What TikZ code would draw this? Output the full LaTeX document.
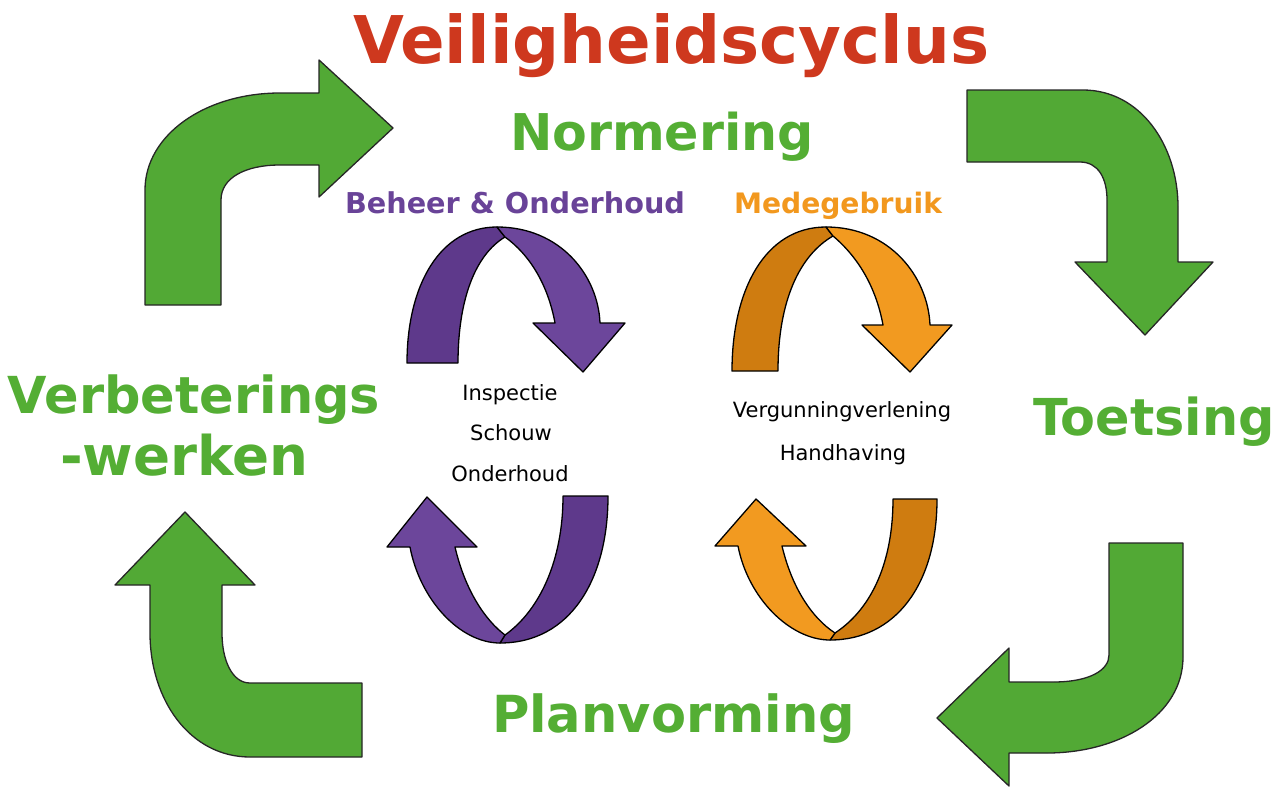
\documentclass[tikz,border=0pt]{standalone}
\usepackage{fontspec}
\setmainfont{DejaVu Sans}
\definecolor{agreen}{RGB}{82,169,53}
\definecolor{tgreen}{RGB}{84,174,52}
\definecolor{tred}{RGB}{206,56,30}
\definecolor{pdark}{RGB}{94,57,139}
\definecolor{plight}{RGB}{108,70,155}
\definecolor{tpurple}{RGB}{105,67,152}
\definecolor{odark}{RGB}{207,124,16}
\definecolor{olight}{RGB}{242,154,32}
\definecolor{torange}{RGB}{242,152,30}
\newcommand{\fitw}[2]{\resizebox{#1}{!}{#2}}
\begin{document}
\begin{tikzpicture}[x=1pt,y=-1pt,
  garrow/.style={fill=agreen,draw=black!85,line width=1.3pt,line join=round},
  rib/.style={draw=black,line width=1.3pt,line join=round},
  lbl/.style={inner sep=0pt,outer sep=0pt,anchor=base west,font=\bfseries},
  small/.style={inner sep=0pt,outer sep=0pt,anchor=base,font=\fontsize{21}{25}\selectfont}]
\useasboundingbox (0,0) rectangle (1287,787);
\fill[white] (0,0) rectangle (1287,787);

% green arrows
\path[garrow] (145,305) -- (145,190) .. controls (145,135) and (205,93) .. (280,93)
  -- (319,93) -- (319,60) -- (393,128) -- (319,197) -- (319,165) -- (280,165)
  .. controls (245,165) and (221,178) .. (221,200) -- (221,305) -- cycle;
\path[garrow] (967,90) -- (1083,90) .. controls (1140,90) and (1178,145) .. (1178,207)
  -- (1178,262) -- (1213,262) -- (1145,335) -- (1075,262) -- (1107,262) -- (1107,200)
  .. controls (1107,178) and (1098,162) .. (1080,162) -- (967,162) -- cycle;
\path[garrow] (1109,543) -- (1183,543) -- (1183,657) .. controls (1183,715) and (1120,753) .. (1047,753)
  -- (1009,753) -- (1009,786) -- (937,718) -- (1009,648) -- (1009,682) -- (1053,682)
  .. controls (1090,682) and (1109,670) .. (1109,655) -- cycle;
\path[garrow] (362,683) -- (362,757) -- (250,757) .. controls (190,757) and (150,700) .. (150,633)
  -- (150,585) -- (115,585) -- (185,512) -- (255,585) -- (222,585) -- (222,633)
  .. controls (222,660) and (232,683) .. (250,683) -- cycle;

% purple top
\path[rib,fill=pdark] (407,363) .. controls (407,285) and (440,227) .. (497,227) -- (505,237)
  .. controls (475,255) and (458,300) .. (458,363) -- cycle;
\path[rib,fill=plight] (497,227) .. controls (560,227) and (598,275) .. (600,323) -- (625,323)
  -- (583,372) -- (533,323) -- (555,323) .. controls (548,285) and (530,255) .. (505,237) -- cycle;
% purple bottom
\path[rib,fill=pdark] (563,496) -- (608,496) .. controls (608,580) and (570,643) .. (500,643)
  -- (505,635) .. controls (540,610) and (563,560) .. (563,496) -- cycle;
\path[rib,fill=plight] (500,643) .. controls (460,643) and (420,600) .. (410,547) -- (387,547)
  -- (427,497) -- (477,547) -- (455,547) .. controls (465,590) and (485,620) .. (505,635) -- cycle;
% orange top
\path[rib,fill=odark] (732,371) .. controls (732,290) and (765,227) .. (826,227) -- (833,236)
  .. controls (800,255) and (778,300) .. (778,371) -- cycle;
\path[rib,fill=olight] (826,227) .. controls (890,227) and (928,277) .. (930,325) -- (952,325)
  -- (910,372) -- (862,325) -- (883,325) .. controls (876,287) and (858,257) .. (833,236) -- cycle;
% orange bottom
\path[rib,fill=odark] (893,499) -- (937,499) .. controls (937,585) and (895,640) .. (830,640)
  -- (835,633) .. controls (873,608) and (893,560) .. (893,499) -- cycle;
\path[rib,fill=olight] (830,640) .. controls (790,640) and (748,598) .. (738,546) -- (715,546)
  -- (756,499) -- (806,546) -- (782,546) .. controls (792,588) and (812,618) .. (835,633) -- cycle;

% labels
\node[lbl,text=tred] (title) at (353,63) {\fitw{636pt}{Veiligheidscyclus}};
\node[lbl,text=tgreen] (norm) at (510,150) {\fitw{304pt}{Normering}};
\node[lbl,text=tpurple] (beheer) at (345,213) {\fitw{340pt}{Beheer \& Onderhoud}};
\node[lbl,text=torange] (mede) at (734,213) {\fitw{208pt}{Medegebruik}};
\node[lbl,text=tgreen] (verb1) at (8,413) {\fitw{372pt}{Verbeterings}};
\node[lbl,text=tgreen] (verb2) at (60,475) {\fitw{248pt}{-werken}};
\node[lbl,text=tgreen] (toets) at (1033,435) {\fitw{242pt}{Toetsing}};
\node[lbl,text=tgreen] (plan) at (492,732) {\fitw{363pt}{Planvorming}};
\node[small] (insp) at (510,400) {Inspectie};
\node[small] (schouw) at (511,440) {Schouw};
\node[small] (onder) at (510,481) {Onderhoud};
\node[small] (verg) at (842,417) {Vergunningverlening};
\node[small] (hand) at (843,460) {Handhaving};
\end{tikzpicture}
\end{document}
